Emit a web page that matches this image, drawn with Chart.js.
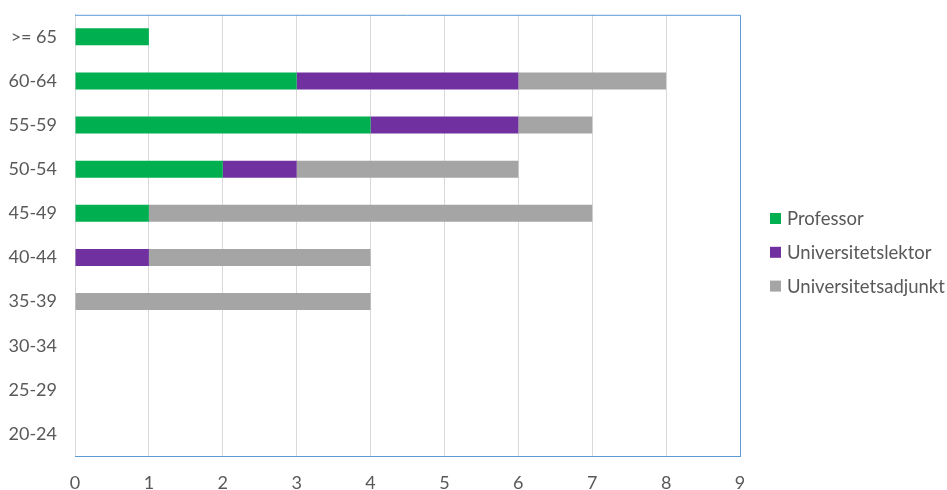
<!DOCTYPE html>
<html>
<head>
<meta charset="utf-8">
<script src="https://cdn.jsdelivr.net/npm/chart.js"></script>
<style>
  html, body { margin: 0; padding: 0; background: #fff; }
  #wrap { width: 947px; height: 490px; }
</style>
</head>
<body>
<div id="wrap"><canvas id="chart" width="947" height="490"></canvas></div>
<script>
// age groups, top to bottom
const ageGroups = [">= 65", "60-64", "55-59", "50-54", "45-49", "40-44", "35-39", "30-34", "25-29", "20-24"];

const professor = [1, 3, 4, 2, 1, 0, 0, 0, 0, 0];
const lektor    = [0, 3, 2, 1, 0, 1, 0, 0, 0, 0];
const adjunkt   = [0, 2, 1, 3, 6, 3, 4, 0, 0, 0];

const xTicks = [0, 1, 2, 3, 4, 5, 6, 7, 8, 9];

const textColor = "#595959";
const fontFamily = "Lato, 'Open Sans', sans-serif";

// blue frame on top, right and bottom of the plot area
const frame = {
    id: "frame",
    afterDraw(chart) {
        const a = chart.chartArea;
        const ctx = chart.ctx;
        ctx.save();
        ctx.strokeStyle = "#5B9BD5";
        ctx.lineWidth = 1;
        ctx.beginPath();
        ctx.moveTo(a.left, a.top + 0.5);
        ctx.lineTo(a.right + 0.5, a.top + 0.5);
        ctx.lineTo(a.right + 0.5, a.bottom + 0.5);
        ctx.lineTo(a.left, a.bottom + 0.5);
        ctx.stroke();
        ctx.restore();
    }
};

// legend to the right of the plot, drawn by hand so it sits like the original
const sideLegend = {
    id: "sideLegend",
    afterDraw(chart) {
        const ctx = chart.ctx;
        const x = 770, y0 = 218.5, step = 33.8, box = 11;
        ctx.save();
        ctx.font = "18.5px " + fontFamily;
        ctx.textBaseline = "middle";
        chart.data.datasets.forEach((ds, i) => {
            const y = y0 + i * step;
            ctx.fillStyle = ds.backgroundColor;
            ctx.fillRect(x, y - box / 2, box, box);
            ctx.fillStyle = textColor;
            ctx.fillText(ds.label, x + 17, y + 1);
        });
        ctx.restore();
    }
};

new Chart(document.getElementById("chart"), {
    type: "bar",
    data: {
        labels: ageGroups,
        datasets: [
            { label: "Professor", data: professor, backgroundColor: "#00B050" },
            { label: "Universitetslektor", data: lektor, backgroundColor: "#7030A0" },
            { label: "Universitetsadjunkt", data: adjunkt, backgroundColor: "#A5A5A5" }
        ]
    },
    options: {
        indexAxis: "y",
        responsive: false,
        animation: false,
        categoryPercentage: 1,
        barPercentage: 0.385,
        layout: { padding: { left: 0, top: 0, right: 207, bottom: 0 } },
        plugins: {
            tooltip: { enabled: false },
            legend: { display: false }
        },
        scales: {
            x: {
                stacked: true,
                min: 0,
                max: 9,
                afterBuildTicks: axis => { axis.ticks = xTicks.map(v => ({ value: v })); },
                afterFit: axis => { axis.height = 34; },
                grid: { color: "#D9D9D9", drawTicks: false },
                border: { color: "#5B9BD5" },
                ticks: { color: textColor, padding: 16, font: { family: fontFamily, size: 18 } }
            },
            y: {
                stacked: true,
                afterFit: axis => { axis.width = 75; },
                grid: { color: "transparent", drawTicks: true, tickLength: 14, tickColor: "transparent" },
                border: { color: "#D9D9D9" },
                ticks: { color: textColor, padding: 4, font: { family: fontFamily, size: 18 } }
            }
        }
    },
    plugins: [frame, sideLegend]
});
</script>
</body>
</html>
